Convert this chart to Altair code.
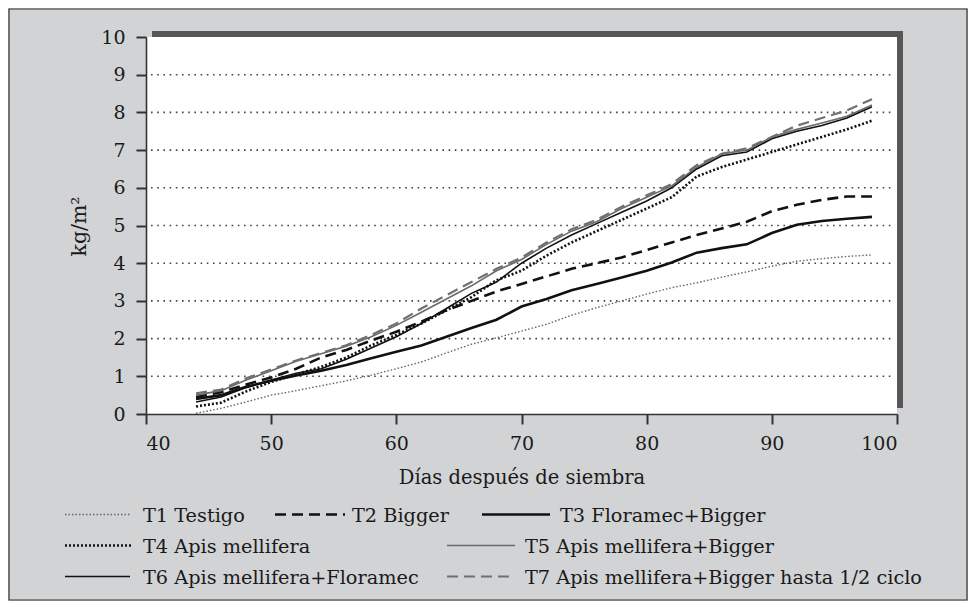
import altair as alt
import pandas as pd

# ---------------- data ----------------
days = [44, 46, 48, 50, 52, 54, 56, 58, 60, 62, 64, 66, 68, 70,
        72, 74, 76, 78, 80, 82, 84, 86, 88, 90, 92, 94, 96, 98]

t1 = [0.02, 0.15, 0.32, 0.50, 0.62, 0.75, 0.88, 1.03, 1.20, 1.38, 1.62, 1.85, 2.02, 2.20,
      2.38, 2.62, 2.82, 3.00, 3.18, 3.35, 3.48, 3.63, 3.77, 3.92, 4.05, 4.12, 4.18, 4.22]
t2 = [0.45, 0.58, 0.78, 0.97, 1.20, 1.50, 1.70, 1.95, 2.18, 2.45, 2.75, 3.00, 3.25, 3.45,
      3.65, 3.85, 4.00, 4.15, 4.35, 4.55, 4.75, 4.92, 5.10, 5.38, 5.55, 5.68, 5.77, 5.77]
t3 = [0.40, 0.50, 0.72, 0.88, 1.02, 1.15, 1.30, 1.48, 1.65, 1.82, 2.05, 2.28, 2.50, 2.85,
      3.05, 3.28, 3.45, 3.62, 3.80, 4.02, 4.28, 4.40, 4.50, 4.80, 5.02, 5.12, 5.18, 5.23]
t4 = [0.20, 0.30, 0.60, 0.85, 1.05, 1.25, 1.50, 1.82, 2.10, 2.40, 2.75, 3.10, 3.55, 3.80,
      4.20, 4.55, 4.85, 5.15, 5.45, 5.75, 6.30, 6.55, 6.75, 6.95, 7.15, 7.35, 7.55, 7.78]
t5 = [0.50, 0.62, 0.90, 1.15, 1.40, 1.60, 1.80, 2.05, 2.35, 2.70, 3.05, 3.40, 3.80, 4.10,
      4.50, 4.85, 5.10, 5.45, 5.75, 6.05, 6.55, 6.90, 7.00, 7.35, 7.55, 7.72, 7.90, 8.20]
t6 = [0.32, 0.45, 0.70, 0.90, 1.08, 1.20, 1.45, 1.75, 2.05, 2.40, 2.80, 3.20, 3.50, 4.00,
      4.40, 4.75, 5.05, 5.35, 5.65, 6.00, 6.50, 6.85, 6.95, 7.30, 7.50, 7.65, 7.85, 8.15]
t7 = [0.55, 0.65, 0.95, 1.18, 1.42, 1.62, 1.82, 2.10, 2.40, 2.80, 3.15, 3.50, 3.85, 4.15,
      4.55, 4.90, 5.15, 5.50, 5.80, 6.10, 6.60, 6.90, 7.05, 7.35, 7.65, 7.85, 8.05, 8.35]

series_names = [
    "T1 Testigo",
    "T2 Bigger",
    "T3 Floramec+Bigger",
    "T4 Apis mellifera",
    "T5 Apis mellifera+Bigger",
    "T6 Apis mellifera+Floramec",
    "T7 Apis mellifera+Bigger hasta 1/2 ciclo",
]
series_values = [t1, t2, t3, t4, t5, t6, t7]

x_ticks = [40, 50, 60, 70, 80, 90, 100]
y_ticks = [0, 1, 2, 3, 4, 5, 6, 7, 8, 9, 10]
grid_values = [1, 2, 3, 4, 5, 6, 7, 8, 9]

# ---------------- styling / layout ----------------
W, H = 751, 377
FONT = "DejaVu Serif"
TXT = "#1a1a1a"

styles = {
    "T1 Testigo": dict(color="#666666", strokeWidth=1.4, strokeDash=[1.5, 2]),
    "T2 Bigger": dict(color="#111111", strokeWidth=2.6, strokeDash=[11, 6]),
    "T3 Floramec+Bigger": dict(color="#111111", strokeWidth=2.6),
    "T4 Apis mellifera": dict(color="#111111", strokeWidth=2.6, strokeDash=[2, 2]),
    "T5 Apis mellifera+Bigger": dict(color="#6a6a6a", strokeWidth=1.6),
    "T6 Apis mellifera+Floramec": dict(color="#111111", strokeWidth=1.6),
    "T7 Apis mellifera+Bigger hasta 1/2 ciclo": dict(color="#707070", strokeWidth=2.2, strokeDash=[11, 6]),
}

# legend layout in plot pixel coordinates: (symbol x1, symbol x2, row y, text x, text baseline y)
legend_layout = {
    "T1 Testigo": (-81, -15, 477.5, -3, 485),
    "T2 Bigger": (129, 199, 477.5, 206, 485),
    "T3 Floramec+Bigger": (336, 404, 477.5, 414, 485),
    "T4 Apis mellifera": (-81, -15, 508.5, -3, 516),
    "T5 Apis mellifera+Bigger": (301, 369, 508.5, 379, 516),
    "T6 Apis mellifera+Floramec": (-81, -16, 539.5, -3, 547),
    "T7 Apis mellifera+Bigger hasta 1/2 ciclo": (301, 367, 539.5, 379, 547),
}

rows = []
for name, vals in zip(series_names, series_values):
    for d, v in zip(days, vals):
        rows.append({"serie": name, "dia": d, "kg": v})
df = pd.DataFrame(rows)

x_scale = alt.Scale(domain=[40, 100], nice=False, zero=False)
y_scale = alt.Scale(domain=[0, 10], nice=False)

x_axis = alt.Axis(
    values=x_ticks, title="Días después de siembra", grid=False,
    labelFont=FONT, labelFontSize=19, labelColor=TXT, labelPadding=10,
    tickSize=10, tickWidth=2, tickColor="#333333",
    domainColor="#333333", domainWidth=1.6,
    titleFont=FONT, titleFontSize=19.5, titleFontWeight="normal", titleColor=TXT,
    titleBaseline="alphabetic", titleY=69, titleX=W / 2, titleAlign="center",
    zindex=1,
)
y_axis = alt.Axis(
    values=y_ticks, title="kg/m²", grid=False,
    labelFont=FONT, labelFontSize=19, labelColor=TXT, labelPadding=11,
    tickSize=10, tickWidth=2, tickColor="#333333",
    domainColor="#333333", domainWidth=1.6,
    titleFont=FONT, titleFontSize=20.5, titleFontWeight="normal", titleColor=TXT,
    titleAngle=270, titleBaseline="alphabetic", titleX=-61, titleY=189, titleAlign="center",
    zindex=1,
)

one = pd.DataFrame({"a": [0]})

# frame around whole figure
frame = alt.Chart(one).mark_rect(fill=None, stroke="#333333", strokeWidth=1.2).encode(
    x=alt.value(-137), x2=alt.value(W + 70), y=alt.value(-28), y2=alt.value(H + 186)
)
# shadow of the plot box
shadow = alt.Chart(one).mark_rect(color="#575757").encode(
    x=alt.value(6), x2=alt.value(W + 6), y=alt.value(-6), y2=alt.value(H - 6)
)
white = alt.Chart(one).mark_rect(color="#ffffff").encode(
    x=alt.value(0), x2=alt.value(W), y=alt.value(0), y2=alt.value(H)
)

grid = alt.Chart(pd.DataFrame({"g": grid_values})).mark_rule(
    color="#444444", strokeWidth=1.6, strokeDash=[1.6, 4.6]
).encode(
    y=alt.Y("g:Q", scale=y_scale, axis=y_axis),
    x=alt.value(5), x2=alt.value(W - 4),
)

line_layers = []
for name in series_names:
    st = styles[name]
    line_layers.append(
        alt.Chart(df).transform_filter(alt.datum.serie == name)
        .mark_line(**st).encode(
            x=alt.X("dia:Q", scale=x_scale, axis=x_axis),
            y=alt.Y("kg:Q", scale=y_scale, axis=y_axis),
        )
    )

legend_layers = []
for name in series_names:
    st = styles[name]
    x1, x2, ry, tx, ty = legend_layout[name]
    legend_layers.append(
        alt.Chart(one).mark_rule(**st).encode(x=alt.value(x1), x2=alt.value(x2), y=alt.value(ry))
    )
    legend_layers.append(
        alt.Chart(pd.DataFrame({"serie": [name]})).mark_text(
            align="left", baseline="alphabetic", font=FONT, fontSize=19.3, color=TXT
        ).encode(text="serie:N", x=alt.value(tx), y=alt.value(ty))
    )

chart = alt.layer(
    frame, shadow, white, grid, *line_layers, *legend_layers
).properties(
    width=W, height=H,
    autosize=alt.AutoSizeParams(type="none"),
    padding={"left": 138, "top": 29, "right": 71, "bottom": 187},
    background="#d2d3d5",
).configure_view(stroke=None)

chart.save("out.html", embed_options={"renderer": "svg", "actions": False})
